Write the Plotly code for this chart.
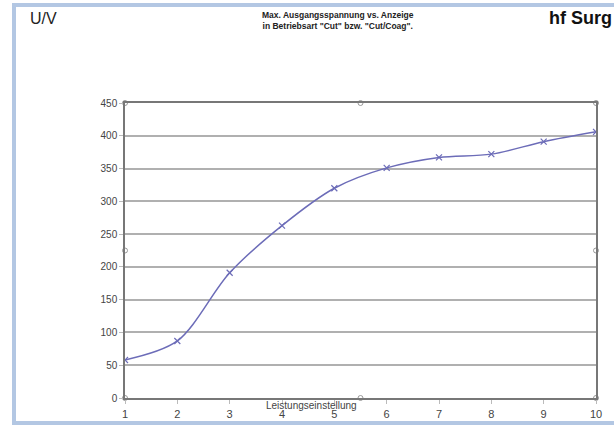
import plotly.graph_objects as go

settings = [1, 2, 3, 4, 5, 6, 7, 8, 9, 10]
voltage = [58, 87, 191, 263, 320, 351, 367, 372, 391, 406]
y_ticks = [0, 50, 100, 150, 200, 250, 300, 350, 400, 450]

W, H = 614, 427
L, R, T, B = 125, 18, 103, 29
pw, ph = W - L - R, H - T - B

def px(x):
    return (x - L) / pw

def py(y):
    return (H - B - y) / ph

fig = go.Figure()
fig.add_trace(go.Scatter(
    x=settings, y=voltage, mode="lines+markers",
    line=dict(color="#6c6cb8", width=1.5, shape="spline", smoothing=0.9),
    marker=dict(symbol="x-thin", size=6, color="#6c6cb8", line=dict(color="#6c6cb8", width=1.2)),
    hoverinfo="x+y", showlegend=False,
))

# selection handles at corners and edge midpoints of the plot area
hx = [settings[0], (settings[0] + settings[-1]) / 2, settings[-1]]
hy = [y_ticks[0], y_ticks[-1] / 2, y_ticks[-1]]
hpts = [(a, b) for a in hx for b in hy if not (a == hx[1] and b == hy[1])]
fig.add_trace(go.Scatter(
    x=[p[0] for p in hpts], y=[p[1] for p in hpts], mode="markers",
    marker=dict(symbol="circle-open", size=5, color="#999999", line=dict(width=1)),
    hoverinfo="skip", showlegend=False, cliponaxis=False,
))

fig.update_layout(
    width=W, height=H,
    margin=dict(l=L, r=R, t=T, b=B, autoexpand=False),
    paper_bgcolor="white", plot_bgcolor="white",
    font=dict(family="Arial, Liberation Sans, sans-serif", color="#333333"),
    xaxis=dict(
        range=[settings[0], settings[-1]], tickmode="array", tickvals=settings,
        ticktext=[str(s) for s in settings], automargin=False,
        showgrid=False, zeroline=False, showline=True, linecolor="#777777", linewidth=1.5,
        mirror=True, ticks="outside", ticklen=4, tickcolor="#bbbbbb",
        ticklabelstandoff=1,
        tickfont=dict(size=11, color="#444444"),
    ),
    yaxis=dict(
        range=[y_ticks[0], y_ticks[-1]], tickmode="array", tickvals=y_ticks,
        automargin=False,
        showgrid=True, gridcolor="#b0b0b0", gridwidth=2, zeroline=False,
        showline=True, linecolor="#777777", linewidth=1.5, mirror=True,
        ticks="outside", ticklen=4, tickcolor="#bbbbbb",
        tickfont=dict(size=10, color="#444444"),
    ),
    shapes=[
        dict(type="rect", xref="paper", yref="paper",
             x0=px(14), x1=px(640), y0=py(423), y1=py(5),
             line=dict(color="#b3c7e3", width=4), layer="below"),
    ],
    annotations=[
        dict(text="U/V", xref="paper", yref="paper", x=px(28), y=py(8),
             xanchor="left", yanchor="top", showarrow=False,
             font=dict(size=16, color="#222222")),
        dict(text="<b>Max. Ausgangsspannung vs. Anzeige<br>in Betriebsart \"Cut\" bzw. \"Cut/Coag\".</b>",
             xref="paper", yref="paper", x=px(338), y=py(8),
             xanchor="center", yanchor="top", showarrow=False,
             font=dict(size=8.5, color="#222222"), align="center"),
        dict(text="<b>hf Surg</b>", xref="paper", yref="paper", x=px(547), y=py(6),
             xanchor="left", yanchor="top", showarrow=False,
             font=dict(size=18, color="#111111")),
        dict(text="Leistungseinstellung", xref="paper", yref="paper", x=px(311), y=py(398),
             xanchor="center", yanchor="top", showarrow=False,
             font=dict(size=10, color="#444444")),
    ],
)

fig.write_html("out.html", config={"displayModeBar": False},
               post_script="document.body.style.margin='0';document.body.style.overflow='hidden';")
